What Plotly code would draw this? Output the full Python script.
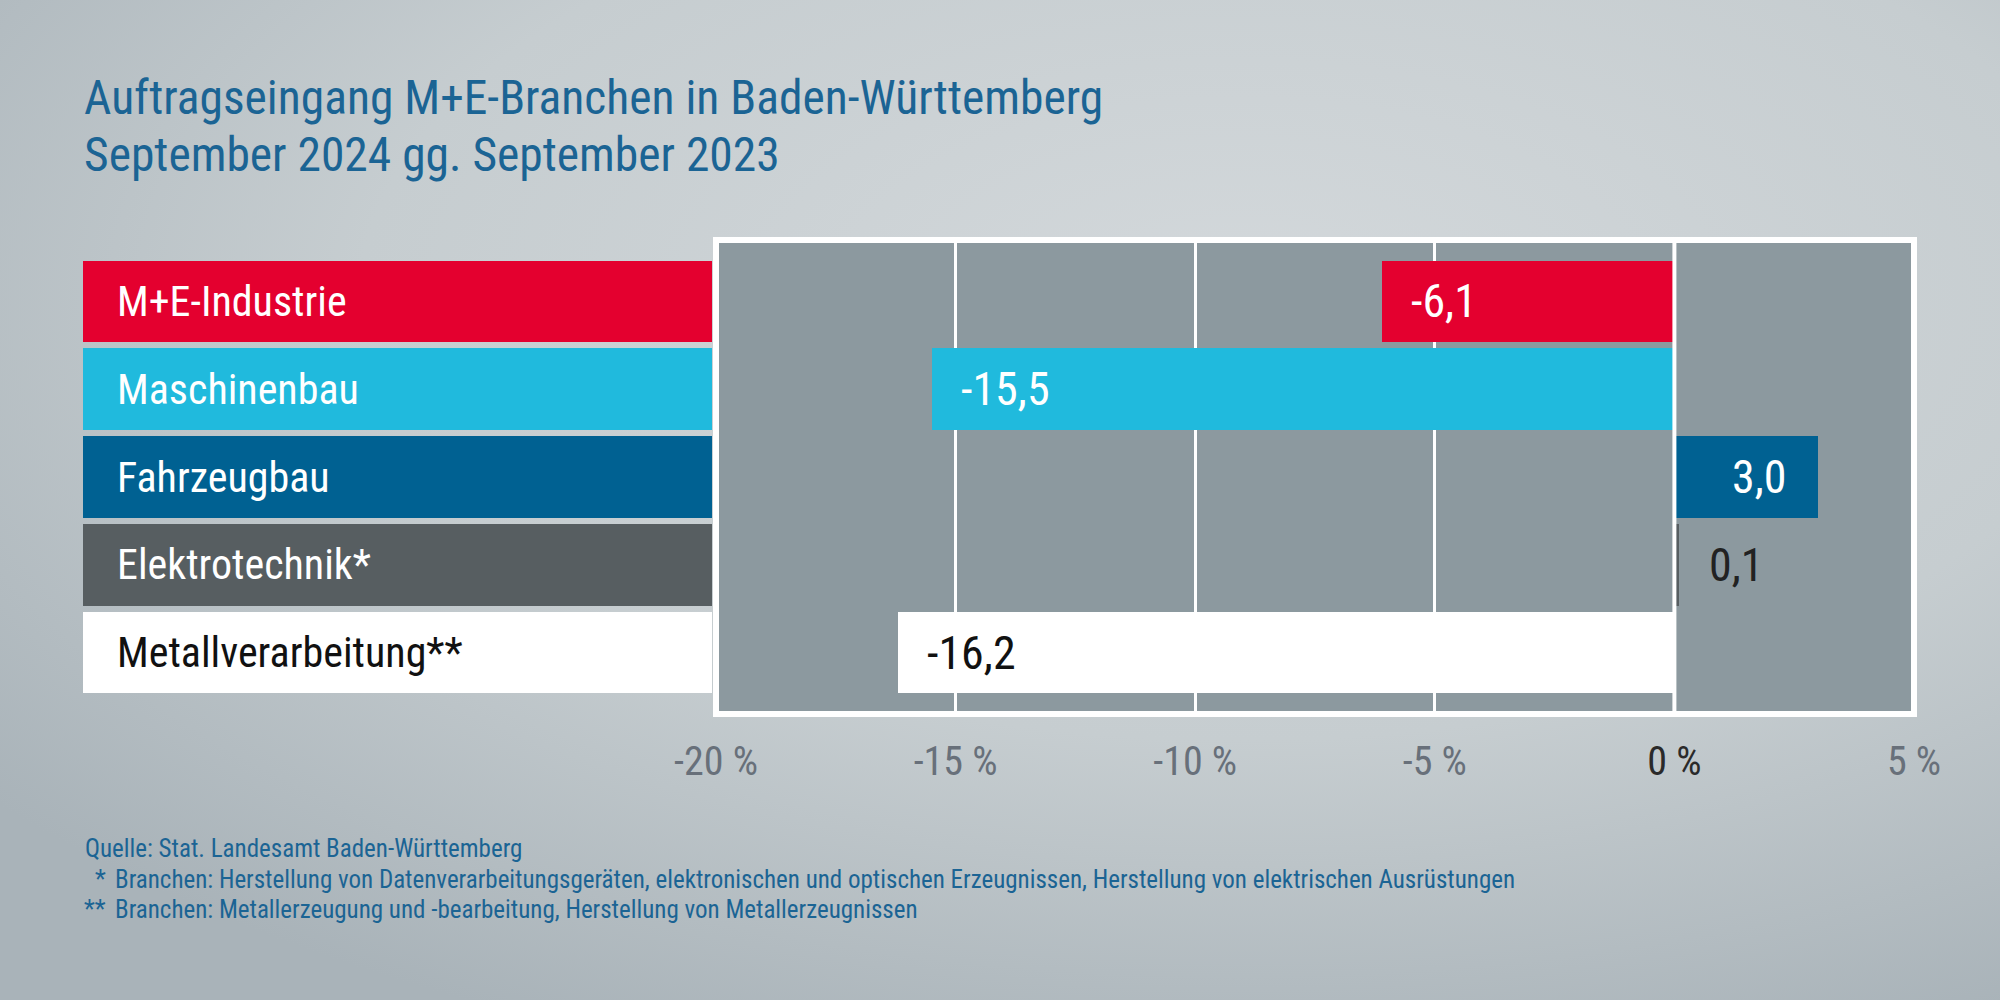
import base64
import plotly.graph_objects as go

# ---- data ----
categories = ["M+E-Industrie", "Maschinenbau", "Fahrzeugbau", "Elektrotechnik*", "Metallverarbeitung**"]
values = [-6.1, -15.5, 3.0, 0.1, -16.2]
bar_colors = ["#e4002f", "#20badd", "#006192", "#575e61", "#ffffff"]
label_colors = ["#ffffff", "#ffffff", "#ffffff", "#ffffff", "#111111"]
value_colors = ["#ffffff", "#ffffff", "#ffffff", "#222222", "#111111"]
tick_vals = [-20, -15, -10, -5, 0, 5]
tick_texts = ["-20 %", "-15 %", "-10 %", "-5 %", "0 %", "5 %"]
title_lines = ["Auftragseingang M+E-Branchen in Baden-Württemberg", "September 2024 gg. September 2023"]
source_text = "Quelle: Stat. Landesamt Baden-Württemberg"
note_marks = ["*", "**"]
note_texts = ["Branchen: Herstellung von Datenverarbeitungsgeräten, elektronischen und optischen Erzeugnissen, Herstellung von elektrischen Ausrüstungen",
              "Branchen: Metallerzeugung und -bearbeitung, Herstellung von Metallerzeugnissen"]

FONT = "Liberation Sans Narrow, Roboto Condensed, Arial Narrow, Roboto, sans-serif"
W, H = 2000, 1000
BLUE_TXT = "#1b6494"

def fmt(v):
    return f"{v:.1f}".replace(".", ",")

fig = go.Figure()

# label bars (left)
fig.add_trace(go.Bar(
    x=[1] * len(categories), y=categories, orientation="h",
    marker=dict(color=bar_colors, line=dict(width=0)),
    width=0.93, xaxis="x2", yaxis="y", hoverinfo="skip", showlegend=False,
))
# value bars
fig.add_trace(go.Bar(
    x=values, y=categories, orientation="h",
    marker=dict(color=bar_colors, line=dict(width=0)),
    width=0.93, xaxis="x", yaxis="y", showlegend=False,
))

annotations = []
for cat, col in zip(categories, label_colors):
    annotations.append(dict(x=0, y=cat, xref="x2", yref="y", text=cat, showarrow=False,
                            xanchor="left", yanchor="middle", xshift=32,
                            font=dict(family=FONT, size=42, color=col)))
for cat, v, col in zip(categories, values, value_colors):
    if v < 0:
        a = dict(x=v, xanchor="left", xshift=27)
    elif v > 1:
        a = dict(x=v, xanchor="right", xshift=-30)
    else:
        a = dict(x=v, xanchor="left", xshift=28)
    a.update(y=cat, xref="x", yref="y", text=fmt(v), showarrow=False, yanchor="middle",
             font=dict(family=FONT, size=46, color=col))
    annotations.append(a)

# titles
for i, (t, ypx) in enumerate(zip(title_lines, [98, 155])):
    annotations.append(dict(x=83 / W, y=1 - ypx / H, xref="paper", yref="paper", text=t,
                            showarrow=False, xanchor="left", yanchor="middle", borderpad=0,
                            font=dict(family=FONT, size=47.5, color=BLUE_TXT)))
# footer
annotations.append(dict(x=83 / W, y=1 - 848 / H, xref="paper", yref="paper", text=source_text,
                        showarrow=False, xanchor="left", yanchor="middle",
                        font=dict(family=FONT, size=25, color=BLUE_TXT)))
for m, t, ypx in zip(note_marks, note_texts, [879, 909]):
    annotations.append(dict(x=108 / W, y=1 - ypx / H, xref="paper", yref="paper", text=m,
                            showarrow=False, xanchor="right", yanchor="middle",
                            font=dict(family=FONT, size=25, color=BLUE_TXT)))
    annotations.append(dict(x=113 / W, y=1 - ypx / H, xref="paper", yref="paper", text=t,
                            showarrow=False, xanchor="left", yanchor="middle",
                            font=dict(family=FONT, size=25, color=BLUE_TXT)))

# background gradient
svg = ('<svg xmlns="http://www.w3.org/2000/svg" width="2000" height="1000" preserveAspectRatio="none">'
       '<defs><radialGradient id="g" cx="0.62" cy="0.3" r="0.8">'
       '<stop offset="0" stop-color="#d3d8db"/><stop offset="0.55" stop-color="#c6cdd0"/>'
       '<stop offset="1" stop-color="#a9b3b9"/></radialGradient></defs>'
       '<rect width="2000" height="1000" fill="url(#g)"/></svg>')
bg_uri = "data:image/svg+xml;base64," + base64.b64encode(svg.encode()).decode()

shapes = [
    dict(type="rect", xref="x domain", yref="y domain", x0=0, x1=1, y0=0, y1=1,
         fillcolor="#8c999f", line=dict(width=0), layer="below"),
    dict(type="line", xref="x", yref="y domain", x0=0, x1=0, y0=0, y1=1,
         line=dict(color="#ffffff", width=4), layer="above"),
    dict(type="rect", xref="x domain", yref="y domain", x0=0, x1=1, y0=0, y1=1,
         line=dict(color="#ffffff", width=6), layer="above"),
]

ticktext_html = [f"<span style='color:#2a2a2a'>{t}</span>" if v == 0 else t
                 for v, t in zip(tick_vals, tick_texts)]

fig.update_layout(
    width=W, height=H,
    autosize=False,
    margin=dict(l=0, r=0, t=0, b=0, pad=0, autoexpand=False),
    paper_bgcolor="#c3cacd",
    plot_bgcolor="rgba(0,0,0,0)",
    barmode="overlay",
    bargap=0,
    showlegend=False,
    xaxis=dict(domain=[716 / W, 1914 / W], range=[-20, 5], tickvals=tick_vals, ticktext=ticktext_html,
               showgrid=True, gridcolor="#ffffff", gridwidth=3, zeroline=False, showline=False,
               ticks="outside", ticklen=12, tickcolor="rgba(0,0,0,0)", automargin=False,
               tickfont=dict(family=FONT, size=40, color="#68707a"), anchor="y", fixedrange=True),
    xaxis2=dict(domain=[83 / W, 712 / W], range=[0, 1], visible=False, anchor="y",
                automargin=False, fixedrange=True),
    yaxis=dict(domain=[1 - 714 / H, 1 - 240 / H], range=[4.7, -0.7], type="category",
               showticklabels=False, showgrid=False, zeroline=False, automargin=False, fixedrange=True),
    annotations=annotations,
    shapes=shapes,
    images=[dict(source=bg_uri, xref="paper", yref="paper", x=0, y=1, sizex=1, sizey=1,
                 xanchor="left", yanchor="top", sizing="stretch", layer="below")],
    font=dict(family=FONT),
)

fig.write_html("out.html", config={"responsive": False, "displayModeBar": False},
               post_script="document.body.style.margin='0';document.body.style.overflow='hidden';")
